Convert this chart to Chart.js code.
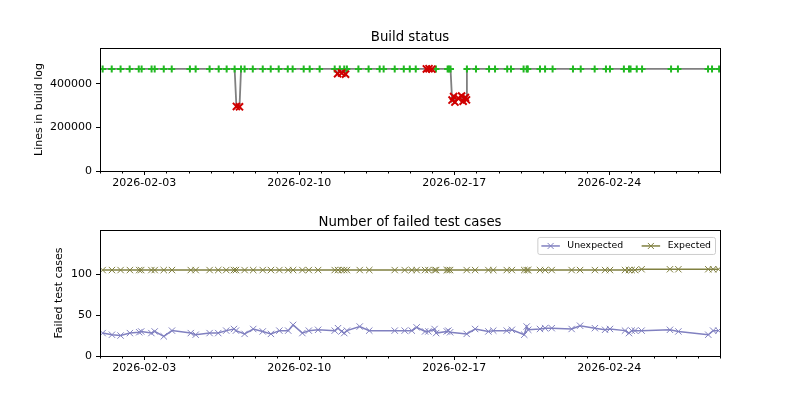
<!DOCTYPE html>
<html>
<head>
<meta charset="utf-8">
<script src="https://cdn.jsdelivr.net/npm/chart.js@4.4.1/dist/chart.umd.min.js"></script>
<style>
  body { margin: 0; background: #fff; }
  canvas { display: block; }
</style>
</head>
<body>
<canvas id="build" width="800" height="200"></canvas>
<canvas id="tests" width="800" height="200"></canvas>
<script>
// x values are days since 2026-02-01 00:00
const dayMin = 0;
const dayMax = 28;
const majorDays = [2, 9, 16, 23];
const buildTicks = [0, 200000, 400000];
const testTicks = [0, 50, 100];

// build log sizes (1 = ok, 0 = failed)
const buildDays = [0.12, 0.53, 0.93, 1.34, 1.75, 1.88, 2.33, 2.47, 2.88, 3.24, 4.06, 4.32, 4.95, 5.36, 5.72,
    6.08, 6.16, 6.30, 6.37, 6.53, 6.90, 7.35, 7.71, 8.07, 8.48, 8.70, 9.20, 9.47, 9.92, 10.60,
    10.73, 10.83, 10.91, 11.03, 11.09, 11.15, 11.67, 12.13, 12.63, 12.81, 13.31, 13.72, 13.99, 14.26,
    14.74, 14.86, 14.99, 15.17, 15.70, 15.76, 15.83, 15.90, 15.97, 16.03, 16.18, 16.33, 16.40, 16.50, 16.55,
    16.57, 16.98, 17.57, 17.84, 18.39, 18.56, 19.13, 19.27, 19.32, 19.87, 20.10, 20.44, 21.36, 21.71,
    22.34, 22.85, 23.03, 23.66, 23.89, 23.96, 24.24, 24.48, 25.79, 26.10, 27.46, 27.64, 27.96];
const buildLines = [468000, 468000, 468000, 468000, 468000, 468000, 468000, 468000, 468000, 468000, 468000, 468000, 468000, 468000, 468000,
    468000, 296000, 294000, 468000, 468000, 468000, 468000, 468000, 468000, 468000, 468000, 468000, 468000, 468000, 468000,
    446000, 468000, 449000, 468000, 444000, 468000, 468000, 468000, 468000, 468000, 468000, 468000, 468000, 468000,
    468000, 469000, 467000, 468000, 468000, 468000, 468000, 325000, 341000, 316000, 333000, 344000, 320000, 337000, 326000,
    468000, 468000, 468000, 468000, 468000, 468000, 468000, 468000, 468000, 468000, 468000, 468000, 468000, 468000,
    468000, 468000, 468000, 468000, 468000, 468000, 468000, 468000, 468000, 468000, 468000, 468000, 468000];
const buildOk = [1, 1, 1, 1, 1, 1, 1, 1, 1, 1, 1, 1, 1, 1, 1,
    1, 0, 0, 1, 1, 1, 1, 1, 1, 1, 1, 1, 1, 1, 1,
    0, 1, 0, 1, 0, 1, 1, 1, 1, 1, 1, 1, 1, 1,
    0, 0, 0, 1, 1, 1, 1, 0, 0, 0, 0, 0, 0, 0, 0,
    1, 1, 1, 1, 1, 1, 1, 1, 1, 1, 1, 1, 1, 1,
    1, 1, 1, 1, 1, 1, 1, 1, 1, 1, 1, 1, 1];

// failed test cases
const testDays = [0.12, 0.54, 0.93, 1.35, 1.77, 1.86, 2.32, 2.47, 2.88, 3.25, 4.10, 4.32, 4.95, 5.34, 5.70,
    6.05, 6.14, 6.53, 6.92, 7.35, 7.72, 8.10, 8.50, 8.72, 9.14, 9.43, 9.85, 10.60, 10.75, 10.91,
    11.03, 11.15, 11.73, 12.16, 13.31, 13.76, 14.08, 14.30, 14.68, 14.83, 15.11, 15.18, 15.66, 15.73,
    15.81, 16.56, 16.94, 17.54, 17.76, 18.37, 18.60, 19.16, 19.27, 19.34, 19.87, 20.10, 20.40, 21.30,
    21.68, 22.35, 22.81, 23.03, 23.71, 23.89, 24.01, 24.16, 24.46, 25.74, 26.12, 27.47, 27.69, 27.93];
const unexpected = [28, 26, 25, 28, 29, 30, 28, 30, 24, 31, 28, 26, 28, 28, 31,
    33, 31, 27, 33, 30, 27, 31, 31, 38, 28, 31, 32, 31, 34, 30,
    28, 31, 36, 31, 31, 31, 31, 35, 30, 30, 33, 28, 30, 31,
    29, 27, 33, 30, 31, 31, 32, 26, 36, 32, 33, 34, 34, 33,
    37, 34, 32, 33, 31, 28, 31, 31, 31, 32, 30, 26, 31, 31];
const expected = [105, 105, 105, 105, 105, 105, 105, 105, 105, 105, 105, 105, 105, 105, 105,
    105, 105, 105, 105, 105, 105, 105, 105, 105, 105, 105, 105, 105, 105, 105,
    105, 105, 105, 105, 105, 105, 105, 105, 105, 105, 105, 105, 105, 105,
    105, 105, 105, 105, 105, 105, 105, 105, 105, 105, 105, 105, 105, 105,
    105, 105, 105, 105, 105, 105, 105, 105, 106, 106, 106, 106, 106, 106];

const font = 'DejaVu Sans';
Chart.defaults.font.family = font;
Chart.defaults.color = '#000';

function dateLabel(d) {
    const dt = new Date(2026, 1, 1 + Math.round(d));
    const mm = String(dt.getMonth() + 1).padStart(2, '0');
    const dd = String(dt.getDate()).padStart(2, '0');
    return `${dt.getFullYear()}-${mm}-${dd}`;
}

// full box round the axes + minor day ticks
const frame = {
    id: 'frame',
    afterDraw(chart) {
        const { ctx, chartArea: a } = chart;
        const xs = chart.scales.x;
        ctx.save();
        ctx.strokeStyle = '#000';
        ctx.lineWidth = 1;
        for (let d = dayMin; d <= dayMax; d++) {
            if (majorDays.includes(d)) continue;
            const px = Math.round(xs.getPixelForValue(d)) + 0.5;
            ctx.beginPath();
            ctx.moveTo(px, a.bottom);
            ctx.lineTo(px, a.bottom + 2.5);
            ctx.stroke();
        }
        ctx.strokeRect(Math.round(a.left) + 0.5, Math.round(a.top) + 0.5,
            Math.round(a.right - a.left), Math.round(a.bottom - a.top));
        ctx.restore();
    }
};

// legend inside the axes, top right, two columns
const innerLegend = {
    id: 'innerLegend',
    afterDraw(chart) {
        const { ctx, chartArea: a } = chart;
        const sets = chart.data.datasets;
        ctx.save();
        ctx.font = `9.3px "${font}"`;
        const handle = 18.5, gap = 7.5, colGap = 18.5, pad = 4;
        let w = pad * 2;
        sets.forEach((ds, i) => {
            w += handle + gap + ctx.measureText(ds.label).width + (i < sets.length - 1 ? colGap : 0);
        });
        const h = 17;
        const x0 = a.right - 5 - w, y0 = a.top + 7;
        ctx.fillStyle = 'rgba(255,255,255,0.8)';
        ctx.strokeStyle = '#cccccc';
        ctx.lineWidth = 1;
        ctx.beginPath();
        ctx.roundRect(x0 + 0.5, y0 + 0.5, w, h, 2);
        ctx.fill();
        ctx.stroke();
        let x = x0 + pad;
        const cy = y0 + h / 2 + 0.5;
        sets.forEach(ds => {
            ctx.strokeStyle = ds.borderColor;
            ctx.lineWidth = 1.5;
            ctx.beginPath();
            ctx.moveTo(x, cy);
            ctx.lineTo(x + handle, cy);
            ctx.stroke();
            const mx = x + handle / 2, r = 3;
            ctx.lineWidth = 1;
            ctx.beginPath();
            ctx.moveTo(mx - r, cy - r); ctx.lineTo(mx + r, cy + r);
            ctx.moveTo(mx - r, cy + r); ctx.lineTo(mx + r, cy - r);
            ctx.stroke();
            ctx.fillStyle = '#000';
            ctx.textBaseline = 'middle';
            ctx.fillText(ds.label, x + handle + gap, cy);
            x += handle + gap + ctx.measureText(ds.label).width + colGap;
        });
        ctx.restore();
    }
};

function xAxis(height) {
    return {
        type: 'linear',
        min: dayMin,
        max: dayMax,
        afterBuildTicks: s => { s.ticks = majorDays.map(v => ({ value: v })); },
        afterFit: s => { s.height = height; },
        border: { display: false },
        grid: { drawOnChartArea: false, drawTicks: true, tickLength: 4, tickColor: '#000', tickWidth: 1 },
        ticks: { autoSkip: false, maxRotation: 0, padding: 2, font: { size: 11 }, callback: v => dateLabel(v) }
    };
}

function yAxis(max, tickVals, title, titlePad) {
    return {
        min: 0,
        max: max,
        afterBuildTicks: s => { s.ticks = tickVals.map(v => ({ value: v })); },
        afterFit: s => { s.width = 100; },
        border: { display: false },
        grid: { drawOnChartArea: false, drawTicks: true, tickLength: 4, tickColor: '#000', tickWidth: 1 },
        ticks: { padding: 4, font: { size: 11 }, callback: v => String(v) },
        title: { display: true, text: title, font: { size: 11 }, padding: { top: titlePad, bottom: 0 } }
    };
}

const allPts = buildDays.map((d, i) => ({ x: d, y: buildLines[i] }));

new Chart(document.getElementById('build'), {
    type: 'line',
    data: {
        datasets: [
            {
                label: 'failed',
                data: allPts.filter((p, i) => !buildOk[i]),
                showLine: false,
                pointStyle: 'crossRot',
                pointRadius: 5,
                pointBorderWidth: 2,
                borderColor: '#d00000',
                pointBorderColor: '#d00000'
            },
            {
                label: 'ok',
                data: allPts.filter((p, i) => buildOk[i]),
                showLine: false,
                pointStyle: 'cross',
                pointRadius: 3.5,
                pointBorderWidth: 2,
                borderColor: '#22b822',
                pointBorderColor: '#22b822'
            },
            {
                label: 'lines',
                data: allPts,
                borderColor: '#808080',
                borderWidth: 1.8,
                pointRadius: 0,
                tension: 0
            }
        ]
    },
    options: {
        responsive: false,
        animation: false,
        devicePixelRatio: 1,
        layout: { padding: { left: 0, right: 80, top: 0, bottom: 0 } },
        plugins: {
            legend: { display: false },
            tooltip: { enabled: false },
            title: {
                display: true, text: 'Build status', color: '#000', fullSize: false,
                font: { size: 13.3, weight: 'normal' }, padding: { top: 30, bottom: 2 }
            }
        },
        scales: {
            x: xAxis(29),
            y: yAxis(564000, buildTicks, 'Lines in build log', 33)
        }
    },
    plugins: [frame]
});

new Chart(document.getElementById('tests'), {
    type: 'line',
    data: {
        datasets: [
            {
                label: 'Unexpected',
                data: testDays.map((d, i) => ({ x: d, y: unexpected[i] })),
                borderColor: '#8080c0',
                borderWidth: 1.5,
                pointStyle: 'crossRot',
                pointRadius: 4.5,
                pointBorderWidth: 1,
                pointBorderColor: '#8080c0',
                tension: 0
            },
            {
                label: 'Expected',
                data: testDays.map((d, i) => ({ x: d, y: expected[i] })),
                borderColor: '#808040',
                borderWidth: 1.5,
                pointStyle: 'crossRot',
                pointRadius: 4.5,
                pointBorderWidth: 1,
                pointBorderColor: '#808040',
                tension: 0
            }
        ]
    },
    options: {
        responsive: false,
        animation: false,
        devicePixelRatio: 1,
        layout: { padding: { left: 0, right: 80, top: 0, bottom: 0 } },
        plugins: {
            legend: { display: false },
            tooltip: { enabled: false },
            title: {
                display: true, text: 'Number of failed test cases', color: '#000', fullSize: false,
                font: { size: 13.3, weight: 'normal', lineHeight: 1.125 }, padding: { top: 15, bottom: 0 }
            }
        },
        scales: {
            x: xAxis(44),
            y: yAxis(154, testTicks, 'Failed test cases', 53)
        }
    },
    plugins: [frame, innerLegend]
});
</script>
</body>
</html>
